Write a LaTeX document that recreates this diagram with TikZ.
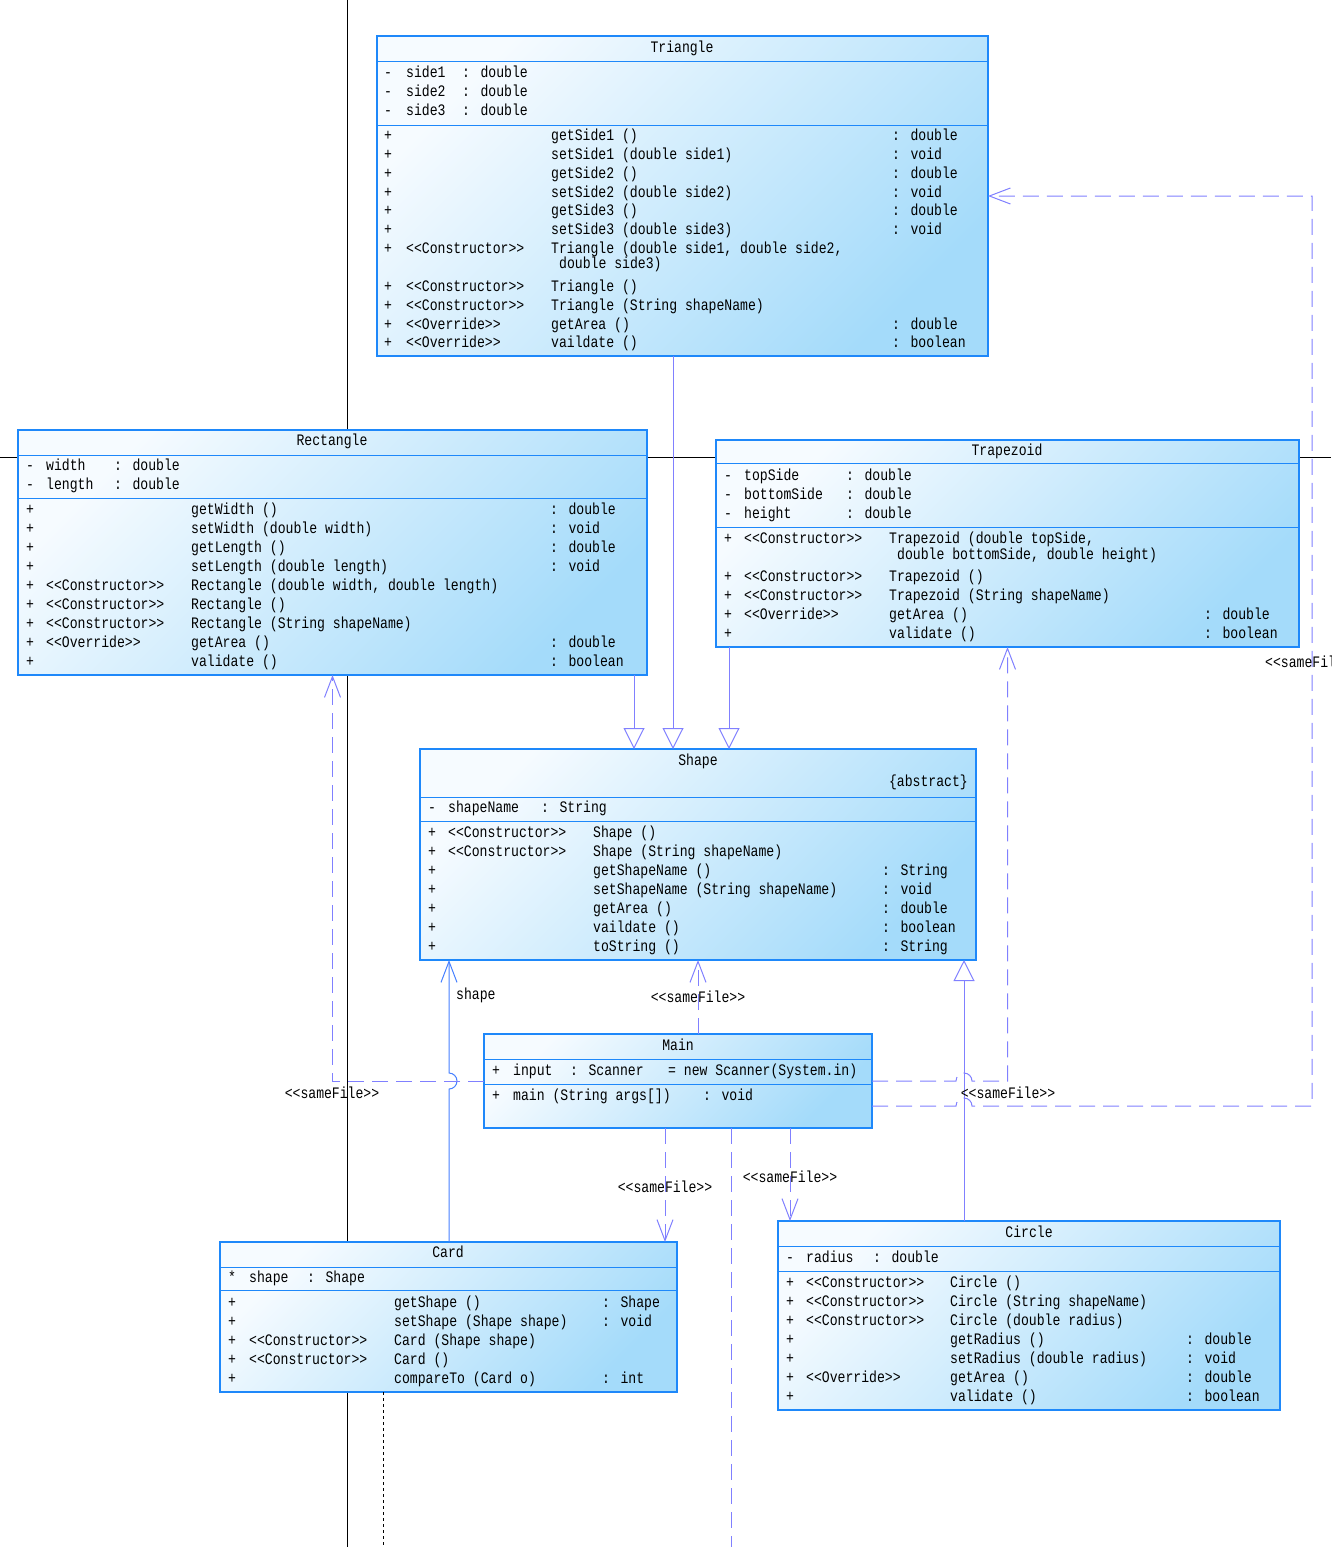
\documentclass[tikz,border=0pt]{standalone}
\usepackage{fontspec}
\newfontfamily\umlfont{Liberation Mono}[FakeStretch=0.82]
\usetikzlibrary{arrows.meta}
\definecolor{umlline}{RGB}{30,136,250}
\definecolor{umltop}{RGB}{246,251,255}
\definecolor{umlbot}{RGB}{164,219,250}
\definecolor{lnk}{RGB}{128,128,255}
\definecolor{assocline}{RGB}{70,128,255}

\begin{document}
\begin{tikzpicture}[x=1pt, y=-1pt,
    box/.style={anchor=north west, inner sep=0pt, outer sep=0pt, draw=umlline, line width=1.2pt,
                top color=umltop, bottom color=umlbot, shading angle=45},
    txt/.style={anchor=west, inner sep=0pt, text height=11pt, text depth=3pt,
                font=\umlfont\fontsize{16}{19}\selectfont},
    title/.style={txt, anchor=center},
    lbl/.style={txt, anchor=center},
    sep/.style={draw=umlline, line width=1pt},
    gen/.style={draw=lnk, line width=1pt, -{Triangle[length=21pt, width=21pt, fill=white]}},
    dep/.style={draw=lnk, line width=1pt, dash pattern=on 16pt off 8pt, -{Straight Barb[length=21pt, width=16pt]}},
    assoc/.style={draw=assocline, line width=1pt, -{Straight Barb[length=21pt, width=16pt]}},
    axis/.style={black, line width=1pt}
  ]
  \useasboundingbox (0,0) rectangle (1331,1547);
  \coordinate (bot) at (0,1547);

  % --- axes behind the classes ---
  \draw[axis] (347,0) -- (347,1547);
  \draw[axis] (0,457) -- (1331,457);

  % --- Triangle ---
  \node[box, minimum width=611, minimum height=320] (tri) at (377,36) {};
  \node[title] (tri-h) at (682,48) {Triangle};
  \foreach \na/\y [count=\k] in {side1/73, side2/92, side3/111}
    {\node[txt] (tri-av\k) at (384,\y) {-}; \node[txt] (tri-an\k) at (406,\y) {\na};
     \node[txt] (tri-at\k) at (462,\y) {: double};}
  \foreach \y/\mv/\ms/\mn/\mt [count=\k] in {
      136/+/{}/{getSide1 ()}/{: double}, 155/+/{}/{setSide1 (double side1)}/{: void},
      174/+/{}/{getSide2 ()}/{: double}, 193/+/{}/{setSide2 (double side2)}/{: void},
      211/+/{}/{getSide3 ()}/{: double}, 230/+/{}/{setSide3 (double side3)}/{: void},
      249/+/{<<Constructor>>}/{Triangle (double side1, double side2,}/{},
      287/+/{<<Constructor>>}/{Triangle ()}/{},
      306/+/{<<Constructor>>}/{Triangle (String shapeName)}/{},
      325/+/{<<Override>>}/{getArea ()}/{: double},
      343/+/{<<Override>>}/{vaildate ()}/{: boolean}}
    {\node[txt] (tri-mv\k) at (384,\y) {\mv}; \node[txt] (tri-ms\k) at (406,\y) {\ms};
     \node[txt] (tri-mn\k) at (551,\y) {\mn}; \node[txt] (tri-mt\k) at (892,\y) {\mt};}
  \node[txt] (tri-mc) at (559,264) {double side3)};

  % --- Rectangle ---
  \node[box, minimum width=629, minimum height=245] (rect) at (18,430) {};
  \node[title] (rect-h) at (332,441) {Rectangle};
  \foreach \na/\y [count=\k] in {width/466, length/485}
    {\node[txt] (rect-av\k) at (26,\y) {-}; \node[txt] (rect-an\k) at (46,\y) {\na};
     \node[txt] (rect-at\k) at (114,\y) {: double};}
  \foreach \y/\mv/\ms/\mn/\mt [count=\k] in {
      510/+/{}/{getWidth ()}/{: double}, 529/+/{}/{setWidth (double width)}/{: void},
      548/+/{}/{getLength ()}/{: double}, 567/+/{}/{setLength (double length)}/{: void},
      586/+/{<<Constructor>>}/{Rectangle (double width, double length)}/{},
      605/+/{<<Constructor>>}/{Rectangle ()}/{},
      624/+/{<<Constructor>>}/{Rectangle (String shapeName)}/{},
      643/+/{<<Override>>}/{getArea ()}/{: double},
      662/+/{}/{validate ()}/{: boolean}}
    {\node[txt] (rect-mv\k) at (26,\y) {\mv}; \node[txt] (rect-ms\k) at (46,\y) {\ms};
     \node[txt] (rect-mn\k) at (191,\y) {\mn}; \node[txt] (rect-mt\k) at (550,\y) {\mt};}

  % --- Trapezoid ---
  \node[box, minimum width=583, minimum height=207] (trap) at (716,440) {};
  \node[title] (trap-h) at (1007,451) {Trapezoid};
  \foreach \na/\y [count=\k] in {topSide/476, bottomSide/495, height/514}
    {\node[txt] (trap-av\k) at (724,\y) {-}; \node[txt] (trap-an\k) at (744,\y) {\na};
     \node[txt] (trap-at\k) at (846,\y) {: double};}
  \foreach \y/\mv/\ms/\mn/\mt [count=\k] in {
      539/+/{<<Constructor>>}/{Trapezoid (double topSide,}/{},
      577/+/{<<Constructor>>}/{Trapezoid ()}/{},
      596/+/{<<Constructor>>}/{Trapezoid (String shapeName)}/{},
      615/+/{<<Override>>}/{getArea ()}/{: double},
      634/+/{}/{validate ()}/{: boolean}}
    {\node[txt] (trap-mv\k) at (724,\y) {\mv}; \node[txt] (trap-ms\k) at (744,\y) {\ms};
     \node[txt] (trap-mn\k) at (889,\y) {\mn}; \node[txt] (trap-mt\k) at (1204,\y) {\mt};}
  \node[txt] (trap-mc) at (897,555) {double bottomSide, double height)};

  % --- Shape ---
  \node[box, minimum width=556, minimum height=211] (shape) at (420,749) {};
  \node[title] (shape-h) at (698,761) {Shape};
  \node[txt, anchor=east] (shape-abs) at (968,782) {\{abstract\}};
  \node[txt] (shape-av) at (428,808) {-};
  \node[txt] (shape-an) at (448,808) {shapeName};
  \node[txt] (shape-at) at (541,808) {: String};
  \foreach \y/\mv/\ms/\mn/\mt [count=\k] in {
      833/+/{<<Constructor>>}/{Shape ()}/{},
      852/+/{<<Constructor>>}/{Shape (String shapeName)}/{},
      871/+/{}/{getShapeName ()}/{: String},
      890/+/{}/{setShapeName (String shapeName)}/{: void},
      909/+/{}/{getArea ()}/{: double},
      928/+/{}/{vaildate ()}/{: boolean},
      947/+/{}/{toString ()}/{: String}}
    {\node[txt] (shape-mv\k) at (428,\y) {\mv}; \node[txt] (shape-ms\k) at (448,\y) {\ms};
     \node[txt] (shape-mn\k) at (593,\y) {\mn}; \node[txt] (shape-mt\k) at (882,\y) {\mt};}

  % --- Main ---
  \node[box, minimum width=388, minimum height=94] (main) at (484,1034) {};
  \node[title] (main-h) at (678,1046) {Main};
  \node[txt] (main-av) at (492,1071) {+};
  \node[txt] (main-an) at (513,1071) {input};
  \node[txt] (main-at) at (570,1071) {: Scanner};
  \node[txt] (main-ai) at (668,1071) {= new Scanner(System.in)};
  \node[txt] (main-mv) at (492,1096) {+};
  \node[txt] (main-mn) at (513,1096) {main (String args[])};
  \node[txt] (main-mt) at (703,1096) {: void};

  % --- Card ---
  \node[box, minimum width=457, minimum height=150] (card) at (220,1242) {};
  \node[title] (card-h) at (448,1253) {Card};
  \node[txt] (card-av) at (228,1278) {*};
  \node[txt] (card-an) at (249,1278) {shape};
  \node[txt] (card-at) at (307,1278) {: Shape};
  \foreach \y/\mv/\ms/\mn/\mt [count=\k] in {
      1303/+/{}/{getShape ()}/{: Shape},
      1322/+/{}/{setShape (Shape shape)}/{: void},
      1341/+/{<<Constructor>>}/{Card (Shape shape)}/{},
      1360/+/{<<Constructor>>}/{Card ()}/{},
      1379/+/{}/{compareTo (Card o)}/{: int}}
    {\node[txt] (card-mv\k) at (228,\y) {\mv}; \node[txt] (card-ms\k) at (249,\y) {\ms};
     \node[txt] (card-mn\k) at (394,\y) {\mn}; \node[txt] (card-mt\k) at (602,\y) {\mt};}

  % --- Circle ---
  \node[box, minimum width=502, minimum height=189] (circ) at (778,1221) {};
  \node[title] (circ-h) at (1029,1233) {Circle};
  \node[txt] (circ-av) at (786,1258) {-};
  \node[txt] (circ-an) at (806,1258) {radius};
  \node[txt] (circ-at) at (873,1258) {: double};
  \foreach \y/\mv/\ms/\mn/\mt [count=\k] in {
      1283/+/{<<Constructor>>}/{Circle ()}/{},
      1302/+/{<<Constructor>>}/{Circle (String shapeName)}/{},
      1321/+/{<<Constructor>>}/{Circle (double radius)}/{},
      1340/+/{}/{getRadius ()}/{: double},
      1359/+/{}/{setRadius (double radius)}/{: void},
      1378/+/{<<Override>>}/{getArea ()}/{: double},
      1397/+/{}/{validate ()}/{: boolean}}
    {\node[txt] (circ-mv\k) at (786,\y) {\mv}; \node[txt] (circ-ms\k) at (806,\y) {\ms};
     \node[txt] (circ-mn\k) at (950,\y) {\mn}; \node[txt] (circ-mt\k) at (1186,\y) {\mt};}

  % --- compartment lines ---
  \foreach \b/\d in {tri/25, tri/89, rect/25, rect/68, trap/23, trap/87, shape/48, shape/72,
                     main/25, main/50, card/25, card/48, circ/25, circ/50}
    \draw[sep] ([yshift=-\d]\b.north west) -- ([yshift=-\d]\b.north east);

  % --- inheritance ---
  \coordinate (sR) at ([xshift=-64]shape.north);
  \coordinate (sT) at ([xshift=-25]shape.north);
  \coordinate (sZ) at ([xshift=31]shape.north);
  \coordinate (sC) at ([xshift=266]shape.south);
  \coordinate (sK) at ([xshift=-249]shape.south);
  \draw[gen] (rect.south -| sR) -- (sR);
  \draw[gen] (tri.south -| sT) -- (sT);
  \draw[gen] (trap.south -| sZ) -- (sZ);
  \draw[gen] (circ.north -| sC) -- (sC);

  % --- association Card -> Shape (hops over the dashed line) ---
  \coordinate (h0) at (main.west -| sK);
  \draw[assoc] (card.north -| sK) -- ([yshift=-8]h0) arc[start angle=90, end angle=-90, radius=8] -- (sK);
  \node[txt] (lb-assoc) at (456,995) {shape};

  % --- dependencies from Main ---
  \draw[dep] (main.north -| shape.south) -- (shape.south);
  \node[lbl] (lb-shape) at (698,998) {<<sameFile>>};

  \draw[dep] (main.west) -- (main.west -| rect.south) -- (rect.south);
  \node[lbl] (lb-rect) at (332,1094) {<<sameFile>>};

  \coordinate (h1) at (main.east -| sC);
  \draw[dep] (main.east) -- ([xshift=-8]h1) arc[start angle=180, end angle=360, radius=8]
    -- (main.east -| trap.south) -- (trap.south);
  \node[lbl] (lb-trap) at (1008,1094) {<<sameFile>>};

  \coordinate (mR2) at ([yshift=-25]main.east);
  \coordinate (h2) at (mR2 -| sC);
  \coordinate (rt) at ([xshift=324]tri.east);
  \draw[dep] (mR2) -- ([xshift=-8]h2) arc[start angle=180, end angle=360, radius=8]
    -- (mR2 -| rt) -- (rt) -- (tri.east);
  \node[txt] (lb-tri) at (1265,663) {<<sameFile>>};

  \coordinate (mK) at ([xshift=-13]main.south);
  \draw[dep] (mK) -- (mK |- card.north);
  \node[lbl] (lb-card) at (665,1188) {<<sameFile>>};

  \coordinate (mCi) at ([xshift=112]main.south);
  \draw[dep] (mCi) -- (mCi |- circ.north);
  \node[lbl] (lb-circ) at (790,1178) {<<sameFile>>};

  \coordinate (mB) at ([xshift=53]main.south);
  \draw[draw=lnk, line width=1pt, dash pattern=on 16pt off 8pt] (mB) -- (mB |- bot);

  % --- dotted line under Card ---
  \coordinate (cd) at ([xshift=-65]card.south);
  \draw[black, line width=1pt, dash pattern=on 3pt off 3pt] (cd) -- (cd |- bot);
\end{tikzpicture}
\end{document}
